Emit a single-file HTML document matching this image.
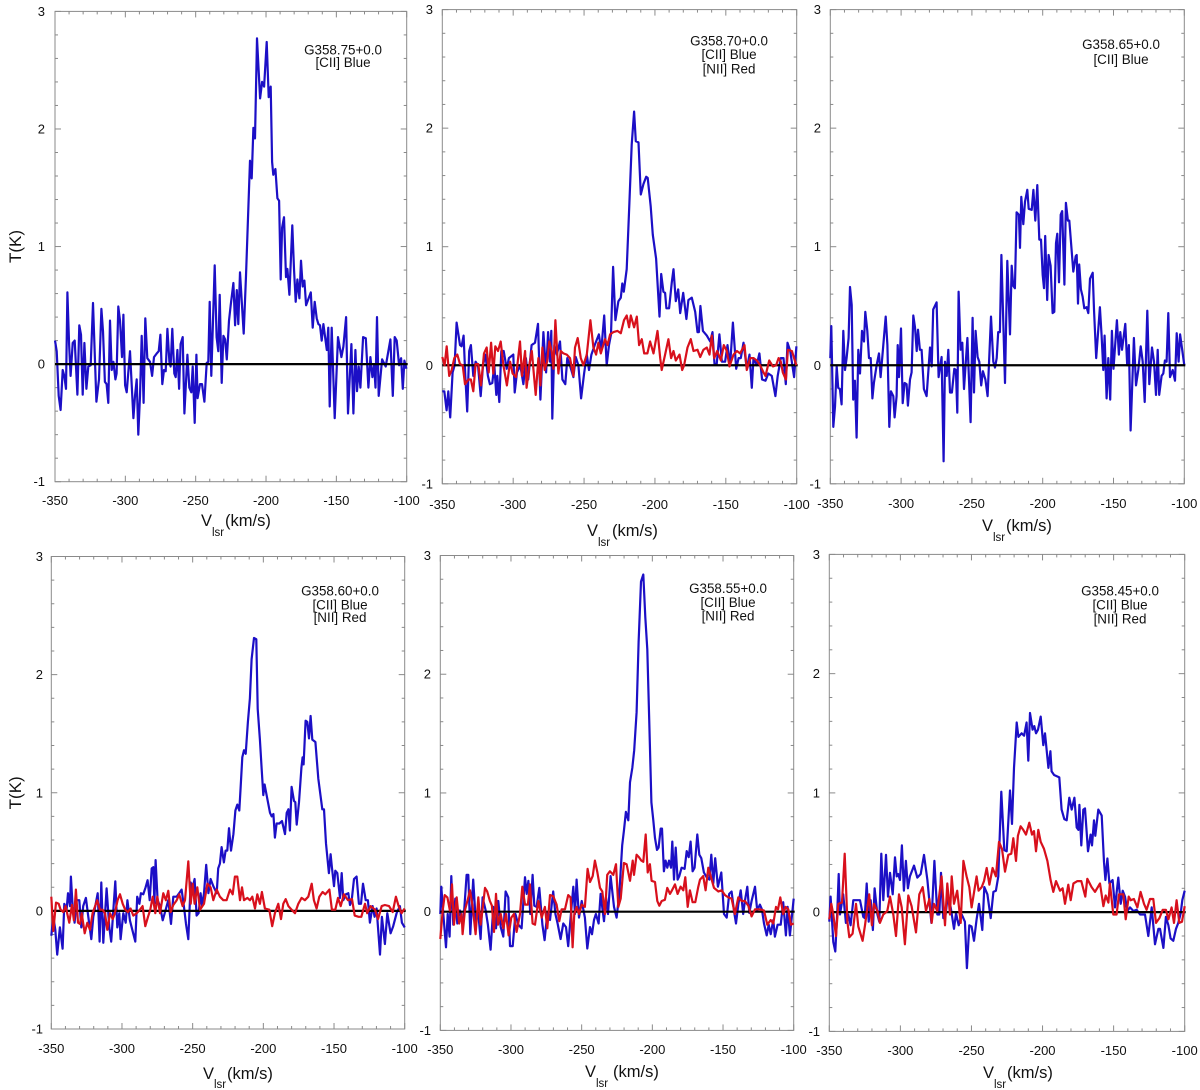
<!DOCTYPE html>
<html lang="en">
<head>
<meta charset="utf-8">
<title>[CII] and [NII] spectra</title>
<style>
html,body{margin:0;padding:0;background:#fff;}
svg{display:block;font-family:"Liberation Sans",sans-serif;}
</style>
</head>
<body>
<svg id="chart" xmlns="http://www.w3.org/2000/svg" width="1200" height="1090" viewBox="0 0 1200 1090"></svg>
<script>
const xTickValues=[-350,-300,-250,-200,-150,-100];
const yTickValues=[-1,0,1,2,3];
const xDomain=[-350,-100];
const yDomain=[-1,3];
const xTitleUnit="(km/s)";
const yTitleText="T(K)";

const p1Cii=[[-350,.2],[-348.8,.11],[-347.4,-.27],[-346,-.39],[-344.5,-.05],[-343.4,-.1],[-342.2,-.21],[-341.2,.61],[-340,.17],[-338.9,-.1],[-337.4,.18],[-336,.2],[-334.1,-.26],[-332.7,.33],[-331.5,.25],[-330.3,-.26],[-329.1,.18],[-327.7,-.21],[-326.3,-.02],[-324.6,-.01],[-323,.52],[-320.6,-.32],[-318.7,-.13],[-317,.47],[-315.9,.28],[-314.5,-.15],[-313.3,-.17],[-312.1,-.33],[-310.9,.37],[-309.7,-.05],[-308.5,.02],[-307.1,-.13],[-306.2,-.08],[-305,.49],[-303.8,.37],[-302.4,.06],[-301.4,.42],[-300.2,-.18],[-299,-.24],[-296.7,.11],[-294.3,-.46],[-293.1,-.27],[-291.9,-.13],[-290.8,-.6],[-289.6,-.27],[-288.4,.24],[-287,-.33],[-285.8,.39],[-284.4,.05],[-282.5,.02],[-281,-.1],[-279.6,.06],[-277.7,.09],[-276.3,.11],[-275.1,.25],[-273.7,-.17],[-272.5,-.05],[-271.3,-.06],[-270.1,.3],[-268.7,.02],[-267.8,-.02],[-266.6,.3],[-265.2,-.08],[-264.2,-.11],[-263,.12],[-261.8,-.21],[-260.7,.17],[-259.2,.23],[-258,-.42],[-255.9,.08],[-254.5,-.2],[-253.1,-.24],[-252.1,-.02],[-250.7,-.5],[-249.5,.08],[-248.6,-.29],[-246.9,-.17],[-245.5,-.17],[-243.8,-.32],[-242.2,.01],[-241,.02],[-240,.53],[-238.9,-.1],[-236.5,.84],[-235.1,.23],[-233.9,.11],[-232.9,.59],[-231.5,-.16],[-230.3,.24],[-229.1,.21],[-227.9,.04],[-226.3,.37],[-225.1,.5],[-223.2,.69],[-222,.33],[-220.8,.63],[-219.7,.34],[-218.5,.78],[-215.9,.26],[-214.2,.75],[-212.5,1.34],[-211.4,1.73],[-210.2,1.58],[-209,2.01],[-207.8,1.92],[-206.4,2.77],[-204.2,2.26],[-202.8,2.4],[-201.4,2.36],[-199.5,2.74],[-198.1,2.27],[-196.7,2.36],[-195.7,1.72],[-194.8,1.61],[-193.3,1.66],[-191.9,1.41],[-190.7,1.39],[-189.6,.72],[-188.6,1.16],[-187.2,1.25],[-185.8,.74],[-184.8,.81],[-183.4,.59],[-181.3,1.18],[-180.1,.81],[-178.9,.53],[-177.7,.72],[-176.3,.56],[-175.1,.88],[-173.9,.66],[-172.7,.71],[-171.5,.5],[-168.2,.61],[-166.8,.31],[-165.4,.53],[-164,.39],[-162.8,.34],[-161.6,.33],[-160.4,.2],[-159.2,.34],[-156.8,.12],[-155.7,.31],[-154.7,-.36],[-153.3,.31],[-151.2,-.46],[-148.8,.23],[-146.4,.06],[-145,.15],[-143.1,.4],[-141.7,-.42],[-139.3,.17],[-137.9,-.42],[-136.5,.12],[-135.3,-.23],[-134.1,-.02],[-132.9,-.2],[-131,.23],[-129.1,.22],[-127.2,-.2],[-125.8,.06],[-124.4,-.11],[-123.2,-.01],[-122.2,-.2],[-121.1,.4],[-119.9,-.27],[-117.5,.04],[-114.9,-.02],[-111.6,.21],[-109.9,-.27],[-108.5,.23],[-107.1,.2],[-105.4,-.01],[-104,.05],[-102.8,-.21],[-101.6,.03],[-100.2,-.04]];

const p2Cii=[[-350,-.22],[-348.6,-.22],[-347,-.38],[-345.8,-.22],[-344.4,-.44],[-342.7,-.06],[-341.3,0],[-339.9,.36],[-337.5,.17],[-336.4,.16],[-335,.25],[-333.8,-.09],[-332.4,-.39],[-331,.12],[-329.8,.17],[-328.1,-.09],[-326.5,.03],[-324.8,0],[-322.9,-.26],[-321.3,0],[-319.6,.09],[-317.8,-.09],[-316.4,-.16],[-314.7,-.15],[-313.3,0],[-311.9,-.25],[-311.2,-.09],[-309.8,-.31],[-308.4,.12],[-306.7,.12],[-304.6,-.03],[-303,.06],[-299.9,.09],[-298.9,-.23],[-297.3,-.06],[-295,0],[-292.8,-.16],[-291,.06],[-289.4,-.12],[-287,.17],[-284.6,.19],[-282.5,.35],[-280.8,-.29],[-278.7,.28],[-276.8,-.06],[-275.4,.28],[-274,.03],[-273.1,.29],[-272.4,-.45],[-270.9,.17],[-269.2,.09],[-267,.2],[-265.3,-.12],[-263.2,-.16],[-261.8,.06],[-260,0],[-257.5,-.1],[-255.9,.07],[-254,0],[-252.1,-.28],[-250,-.07],[-248.1,.09],[-246.5,-.04],[-244.8,.09],[-242.5,.17],[-239.5,.26],[-237.9,.12],[-235.8,.42],[-234,0],[-232.4,.17],[-231,.26],[-229.5,.83],[-227.9,.38],[-225.8,.54],[-224.1,.57],[-223,.69],[-222,.62],[-219.9,.81],[-218,1.37],[-216.4,1.86],[-214.7,2.14],[-213.5,1.89],[-211.6,1.88],[-210,1.44],[-208.1,1.53],[-206.2,1.59],[-205.1,1.58],[-203,1.34],[-201.5,1.1],[-199.2,.9],[-196.8,.41],[-195.6,.77],[-194,.62],[-192.8,.61],[-191.9,.48],[-190,.48],[-188.1,.7],[-186.9,.81],[-185.3,.54],[-183.6,.64],[-182.2,.44],[-180.1,.61],[-177.8,.39],[-176.4,.55],[-174,.57],[-171.6,.45],[-170,.28],[-169,.28],[-167.9,.5],[-166.2,.29],[-163.4,.25],[-161,.2],[-159.4,.28],[-158,.01],[-156.4,.01],[-154.5,.26],[-152.8,.03],[-150.5,.03],[-148.8,.17],[-147,0],[-145,.36],[-142.7,-.03],[-141,.06],[-139.4,.06],[-137.5,.19],[-135.2,-.03],[-133.3,.09],[-131.7,-.19],[-130.5,.06],[-128.2,0],[-126.3,.1],[-124.4,-.12],[-122,-.13],[-120,-.07],[-117.6,-.09],[-115,-.26],[-113.4,-.09],[-111.2,.06],[-109.3,.06],[-107.7,-.16],[-106.5,.19],[-104.6,.12],[-101.8,-.1],[-100.2,.16]];
const p2Nii=[[-350,.07],[-348.4,0],[-346.9,.16],[-345.1,-.09],[-343.4,-.04],[-341.5,.06],[-339.4,.09],[-337.5,.01],[-335.6,0],[-334,-.16],[-331.6,-.12],[-329.8,-.12],[-328.1,-.22],[-326.5,.01],[-324.6,.01],[-322.7,-.17],[-320.6,.1],[-318.7,.15],[-317.3,-.06],[-315.6,.19],[-314,-.07],[-312.6,.16],[-310.7,.12],[-308.8,.2],[-306.9,0],[-304.4,-.17],[-302.2,.03],[-300.4,-.07],[-298,-.1],[-295.2,.2],[-293.8,-.09],[-291.6,.12],[-290.5,-.19],[-288.6,0],[-286.9,.12],[-284.1,-.25],[-282.2,.06],[-280.8,-.17],[-279.4,.15],[-277.8,-.04],[-276.1,.03],[-274.5,.2],[-272.8,.12],[-271.6,-.03],[-270.2,.38],[-268.1,-.07],[-266.5,.12],[-264.6,.1],[-262.2,.09],[-259.9,.06],[-257.5,-.09],[-256.4,.15],[-254.5,.23],[-252.3,.06],[-250.5,0],[-248.1,.09],[-245.5,.38],[-243.4,.15],[-241.5,.09],[-239.9,.19],[-238.2,.1],[-235.2,.22],[-233.5,.17],[-231.6,.26],[-229.3,.28],[-226.5,.29],[-224.1,.27],[-221.8,.38],[-219.9,.42],[-218.2,.32],[-217,.42],[-214.7,.32],[-212.8,.41],[-211.2,.17],[-209.3,.22],[-207.6,.1],[-205.3,.1],[-203.4,.2],[-201,.1],[-198.2,.29],[-196.3,.06],[-195.2,-.04],[-192.8,.09],[-190.5,.22],[-188.6,.06],[-186.9,.12],[-185.3,.04],[-182.7,.09],[-180.8,-.04],[-179.4,0],[-177,.15],[-174.7,.22],[-172.8,.12],[-170,.13],[-168.1,.07],[-165.8,.13],[-163.4,.15],[-161.5,.09],[-159.9,.25],[-158.2,.06],[-156.1,.12],[-153.5,.04],[-151.4,.17],[-149.3,.12],[-147.4,-.01],[-144.6,.09],[-142.2,.12],[-139.9,.1],[-136.8,.17],[-135.2,-.04],[-132.8,.06],[-130.5,.06],[-128.1,.04],[-125.8,0],[-123.4,-.06],[-122,-.09],[-119.4,.04],[-116.8,-.01],[-114.5,0],[-112.8,.06],[-111.2,.03],[-109.8,-.06],[-107.6,-.12],[-106.2,.13],[-103.4,.12],[-100.3,0]];

const p3Cii=[[-350,.06],[-349.3,.33],[-347.9,-.52],[-346.7,-.35],[-345.5,-.01],[-344.4,-.19],[-343.2,-.2],[-342,-.33],[-340.8,.29],[-339.6,-.04],[-338.5,.06],[-337.1,.23],[-336.1,.66],[-334.9,.51],[-333.8,-.29],[-332.6,-.13],[-331.4,-.61],[-330.2,.13],[-329,-.07],[-327.6,.29],[-326.2,.2],[-325.3,.45],[-323.9,.29],[-322.7,.06],[-321.5,.06],[-320.3,-.28],[-319.2,-.15],[-317.3,0],[-315.6,.1],[-314.5,-.1],[-312.6,.17],[-310.9,.41],[-309.7,.17],[-308.3,-.52],[-307.2,-.22],[-305.5,-.26],[-304.6,-.44],[-303.2,-.26],[-302.4,.17],[-301.5,-.1],[-300.1,.31],[-298.9,-.32],[-297.5,-.15],[-296.1,-.16],[-295.2,-.34],[-293.7,-.12],[-292.6,-.06],[-291.4,.42],[-290.2,.32],[-289,.12],[-288.1,.3],[-286.7,.13],[-285.5,.13],[-283.9,-.2],[-282,-.26],[-279.6,.15],[-278.4,-.01],[-277.3,.47],[-274.9,.53],[-273.5,-.1],[-271.4,.07],[-270,-.81],[-269,.03],[-267.8,-.09],[-266.7,.13],[-265.5,-.23],[-264.1,-.23],[-262.4,-.03],[-261.3,-.04],[-260.3,-.4],[-259.4,.62],[-258,.13],[-256.8,.19],[-255.6,-.2],[-253.2,.23],[-250.9,-.48],[-249.5,.4],[-248.5,-.23],[-247.4,.29],[-246,.07],[-244.8,.03],[-243.4,-.17],[-242.2,-.05],[-240.5,-.12],[-238.9,-.26],[-236.5,.41],[-234.9,.03],[-233.7,-.02],[-232.5,.06],[-231.4,.28],[-230.2,.28],[-229.2,.93],[-226.6,-.15],[-225,.88],[-223.1,.26],[-221.9,.84],[-220.8,.67],[-219.6,.65],[-218.4,1.29],[-216.8,1.27],[-216,.99],[-215.1,1.42],[-213.7,1.19],[-212.5,1.38],[-210.9,1.48],[-209.9,1.32],[-207.8,1.31],[-206.6,1.48],[-205.2,1.22],[-203.8,1.52],[-202.4,1.06],[-201.2,1.06],[-200,.76],[-199.1,.65],[-198.2,1.09],[-196.8,.55],[-195.8,.93],[-194.4,.84],[-193,.44],[-191.8,.45],[-190.6,1.03],[-189.7,1.11],[-188.5,.7],[-187.3,1.27],[-186.2,1.3],[-184.7,.68],[-183.6,1.37],[-182.2,1.22],[-181.2,1.22],[-178.4,.79],[-176.7,.92],[-176,.93],[-175.1,.52],[-174.2,.85],[-173,.64],[-171.8,.58],[-170.6,.48],[-169,.49],[-167.8,.44],[-166.6,.73],[-164.7,.78],[-163.8,.47],[-162.2,.06],[-159.6,.49],[-158.4,.25],[-157.2,-.04],[-156.3,.25],[-154.9,-.28],[-153.7,.06],[-152.3,-.29],[-151.1,.29],[-150,-.03],[-147.6,.38],[-146.2,.09],[-145.2,.28],[-144,.13],[-141.7,.35],[-140.3,0],[-139.1,.17],[-137.9,-.55],[-135.6,.23],[-134.1,-.17],[-132.5,-.04],[-130.8,.16],[-129.4,.03],[-128,-.31],[-126.1,.46],[-124.7,-.16],[-122.8,.15],[-121.4,.03],[-120,-.25],[-118.8,.13],[-117.7,-.25],[-116,-.09],[-114.8,-.07],[-113.7,.04],[-112.5,.03],[-111.3,.44],[-110.1,-.1],[-108.2,-.04],[-106.6,-.13],[-105.4,.27],[-104,.03],[-103,.26],[-100,0]];

const p4Cii=[[-350,-.21],[-348.6,-.05],[-347.2,-.16],[-345.8,-.37],[-343.9,-.14],[-342,-.32],[-340.8,.06],[-339.2,.01],[-338.2,.15],[-336.8,.04],[-336.1,.29],[-334.9,.04],[-333.5,-.1],[-332.1,.09],[-330.2,.09],[-328.8,-.14],[-327.4,.04],[-325.5,.11],[-323.8,-.05],[-321.7,-.24],[-320.3,-.05],[-317.2,.15],[-315.8,-.26],[-314.6,.24],[-313.2,-.27],[-310.9,.19],[-309,-.14],[-307.6,-.26],[-304.7,.25],[-303.3,-.14],[-301.9,-.02],[-301,-.24],[-299.1,-.02],[-297.4,-.1],[-296.2,.09],[-294.4,-.08],[-292.7,-.16],[-290.6,-.26],[-289.2,.12],[-287.7,.06],[-286.6,.15],[-284.9,.14],[-283.3,.2],[-281.9,.26],[-280.4,.09],[-279,.36],[-277.8,.37],[-277.1,.06],[-276.2,.43],[-274.8,.09],[-273.1,.04],[-271.2,-.08],[-269.1,.01],[-267.2,.09],[-265.3,-.11],[-263.7,.12],[-261.3,.12],[-259.5,.15],[-257.8,.18],[-256.2,.04],[-254.7,-.11],[-253.1,-.24],[-251.4,.24],[-250.3,.18],[-248.6,.27],[-247.2,-.04],[-245.8,-.02],[-244.4,.15],[-243.4,.04],[-242,.15],[-240.4,.39],[-238.9,.15],[-237.3,.27],[-235.4,.21],[-233,.15],[-231.9,.36],[-230.7,.4],[-229.5,.54],[-227.9,.41],[-226.7,.51],[-225.5,.51],[-224.3,.7],[-222.9,.51],[-221.2,.65],[-219.8,.85],[-218.4,.9],[-217,.85],[-216.1,1.04],[-214.9,1.3],[-213.7,1.36],[-212.5,1.33],[-210.9,1.6],[-209.5,1.8],[-208.3,2.13],[-206.6,2.31],[-205,2.3],[-204,1.71],[-202.4,1.45],[-201.2,1.21],[-200,.98],[-199.1,1.07],[-197.7,.98],[-195.3,.83],[-194.1,.8],[-192.9,.82],[-191.8,.62],[-190.6,.74],[-188.7,.74],[-186.8,.76],[-184.7,.65],[-183.5,.83],[-182.3,.86],[-181.2,.68],[-180,1.05],[-178.3,.93],[-177.4,.92],[-176.4,.73],[-174.8,.92],[-173.1,1.21],[-172.2,1.3],[-171.5,1.24],[-170.1,1.61],[-168.9,1.6],[-167.7,1.46],[-166.6,1.65],[-165.4,1.45],[-163.2,1.43],[-161.1,1.12],[-158.3,.86],[-157.1,.86],[-155.7,.57],[-153.6,.32],[-152.4,.48],[-151.5,.37],[-150,.21],[-149.1,.34],[-147.7,.32],[-145.8,.11],[-144.6,.32],[-143.4,.09],[-141.6,.14],[-139.9,.15],[-138.7,.05],[-137.5,.09],[-135.9,.27],[-134,.29],[-132.4,.06],[-130.9,.06],[-129.5,.23],[-127.6,.09],[-126,.09],[-124.6,-.1],[-122.7,.04],[-121.3,-.05],[-119.9,.02],[-117.5,-.37],[-116.1,-.05],[-114,-.28],[-112.3,-.02],[-110,-.19],[-108.1,-.13],[-105.7,-.02],[-103.4,.04],[-102,-.1],[-100,-.14]];
const p4Nii=[[-350,.12],[-348.6,-.17],[-346.7,.07],[-344.8,.06],[-343.4,.01],[-341.5,-.01],[-339.9,.04],[-337.3,-.1],[-335.4,.05],[-334,-.08],[-332.6,.18],[-331.1,-.1],[-329.7,-.11],[-328.5,-.02],[-326.4,-.19],[-324.5,-.1],[-322.6,-.16],[-320.8,-.02],[-317.5,.09],[-315.6,.01],[-313.7,.01],[-312,-.02],[-310.4,-.16],[-308.5,-.02],[-306.6,-.07],[-305,-.02],[-303.1,.09],[-301.4,.14],[-299.5,.06],[-297.7,.01],[-295.8,-.01],[-293.9,.02],[-292,-.04],[-289.6,-.02],[-287.3,.01],[-285.4,.04],[-283.5,-.13],[-281.6,-.05],[-280,.01],[-278.3,.12],[-276.4,-.02],[-275,.12],[-273.1,-.02],[-270.8,.15],[-268.9,.09],[-267.2,.17],[-265.6,-.01],[-263.7,.05],[-261.3,.09],[-259.5,.14],[-257.1,.04],[-255.4,.09],[-253.1,.42],[-251.4,.06],[-250,.23],[-248.6,.06],[-246.7,.2],[-244.8,.01],[-242,.06],[-239.6,.23],[-237.3,.2],[-235.4,.09],[-233,.18],[-230.7,.12],[-228.3,.09],[-226,.09],[-223.6,.18],[-221.7,.14],[-220.1,.29],[-218.4,.29],[-216.5,.09],[-215.1,.2],[-213.7,.09],[-211.3,.11],[-209.5,.09],[-207.8,.12],[-205.9,.02],[-204.3,.14],[-202.4,.06],[-201,.16],[-198.9,.02],[-195.8,.01],[-193.7,-.13],[-191.8,-.02],[-189.4,.06],[-187.5,-.07],[-185.9,.06],[-184.2,.1],[-182.3,.04],[-180,.01],[-177.6,-.02],[-175.3,.06],[-172.9,.11],[-170.6,.09],[-168.2,.12],[-165.8,.23],[-164.2,.09],[-162.3,.02],[-160.4,.12],[-158.1,.16],[-156.2,.14],[-153.3,.18],[-151.5,.01],[-149.1,.01],[-147.2,.11],[-145.3,.04],[-143,.14],[-140.1,.09],[-137.3,.1],[-135.4,-.04],[-132.6,-.05],[-130.7,-.05],[-128.1,.06],[-126.5,-.02],[-124.1,.04],[-121,.01],[-118.9,-.07],[-116.3,.04],[-114,.05],[-111.1,.04],[-108.5,-.01],[-106.2,.12],[-104.3,.04],[-102.2,-.02],[-100,.02]];

const p5Cii=[[-350,-.02],[-349.3,.21],[-347.9,-.02],[-346,-.3],[-344.8,-.02],[-343.4,-.21],[-342.2,.3],[-340.8,-.11],[-339.4,.11],[-338,-.1],[-336.1,.01],[-333.7,-.1],[-331.4,.31],[-330.2,.31],[-328.8,-.19],[-326.7,.27],[-324.8,-.1],[-323.4,.02],[-321.5,-.23],[-320.1,.12],[-317.9,.01],[-316.3,-.11],[-314.4,-.32],[-312.5,.04],[-310.6,-.14],[-309,.09],[-307.3,-.13],[-305.4,-.21],[-303.8,.17],[-301.9,.12],[-300.7,-.29],[-298.8,-.29],[-296.9,-.02],[-294.8,-.11],[-292.5,-.14],[-290.1,.29],[-288.9,.15],[-287.7,.26],[-286.3,-.02],[-284.7,.31],[-283.5,.05],[-281.9,.04],[-280,.2],[-277.8,-.11],[-276.2,-.24],[-274.3,-.01],[-272.4,-.07],[-270.1,.17],[-268.6,-.02],[-267,-.1],[-264.9,-.23],[-263,-.1],[-261.1,-.13],[-259.5,-.29],[-257.8,-.05],[-255.9,.21],[-254.7,-.02],[-253.6,.27],[-251.9,-.05],[-250,.09],[-247.7,-.05],[-246,-.31],[-244.1,-.13],[-242.7,-.19],[-241.3,-.07],[-239.9,-.02],[-238,-.1],[-236.6,.15],[-234.2,-.08],[-232.8,.12],[-231.4,-.02],[-229.5,.3],[-227.1,.04],[-225.3,-.05],[-223.4,.15],[-221.3,.56],[-220.1,.68],[-218.7,.84],[-217,.77],[-215.8,1.09],[-214.2,1.21],[-212.8,1.36],[-211.1,1.68],[-209.7,2.27],[-208,2.78],[-206.4,2.84],[-205,2.48],[-203.6,2.21],[-202.2,1.62],[-200.7,.92],[-199.3,.77],[-198.1,.62],[-196.7,.52],[-195.6,.54],[-194.1,.7],[-193.2,.7],[-191.8,.34],[-190.6,.43],[-189.4,.37],[-188.2,.43],[-186.8,.37],[-185.9,.59],[-184.7,.27],[-183.5,.54],[-182.1,.27],[-180.9,.3],[-179.3,.37],[-177.2,.36],[-175.7,.51],[-174.3,.46],[-172.9,.59],[-171.5,.34],[-170.1,.37],[-168.2,.65],[-166.8,.48],[-165.4,.45],[-163.5,.33],[-161.6,.29],[-159.7,.27],[-158.3,.48],[-156.9,.24],[-155.5,.45],[-153.6,.21],[-151.2,.33],[-149.3,-.02],[-147.4,-.05],[-145.6,.15],[-143.9,.17],[-142,-.01],[-140.8,-.1],[-139.2,.06],[-137.5,.18],[-135.7,-.02],[-134.5,.09],[-132.8,.21],[-131.4,-.01],[-129.8,.09],[-127.4,.21],[-125.8,.01],[-123.9,.06],[-122.5,.02],[-121,-.1],[-119.1,-.2],[-117.7,-.11],[-116.3,-.19],[-114.4,-.07],[-113.3,-.21],[-111.4,-.11],[-109.2,-.11],[-107.4,.08],[-105.5,-.2],[-104.3,.04],[-102.7,-.2],[-100,.11]];
const p5Nii=[[-350,-.23],[-348.3,.01],[-346.9,.14],[-345,.12],[-343.2,.01],[-341.7,.23],[-340.3,-.11],[-338.4,.12],[-336.6,-.1],[-334.9,-.02],[-334.2,-.19],[-332.6,.01],[-330.2,.12],[-329,.18],[-327.1,.04],[-325,-.19],[-323.1,.12],[-321.5,-.11],[-320.1,.02],[-318.4,.2],[-316.8,.17],[-314.9,.09],[-313.5,.05],[-312,-.17],[-310.6,.15],[-309.2,-.11],[-307.3,-.02],[-305.4,-.14],[-303.5,-.02],[-301.7,-.2],[-299.8,-.05],[-297.9,-.02],[-296,-.17],[-293.6,-.02],[-292,.21],[-290.1,.06],[-288,.06],[-286.6,.23],[-284.7,-.1],[-283,-.11],[-280.7,.09],[-278.3,-.05],[-276,.04],[-274.3,-.14],[-272.4,.14],[-270.1,.13],[-267.7,.06],[-265.8,-.08],[-264.2,.02],[-261.8,.02],[-259.5,.14],[-257.8,.12],[-256.4,-.3],[-255.2,-.02],[-253.6,.04],[-251.9,-.02],[-250,.06],[-247.7,.04],[-245.8,.36],[-244.1,.25],[-242.2,.3],[-240.6,.43],[-238.9,.33],[-237,.2],[-235.4,.17],[-233.5,-.02],[-231.9,.31],[-230,.34],[-227.6,.31],[-225.7,.4],[-224.1,.04],[-222.4,.11],[-220.1,.41],[-218.2,.4],[-215.8,.26],[-213.9,.43],[-213,.31],[-211.1,.48],[-209.5,.46],[-207.8,.43],[-206.4,.42],[-204.7,.65],[-203.3,.33],[-201.7,.4],[-200.5,.26],[-198.1,.25],[-196.5,.09],[-195.1,.05],[-193.4,.09],[-191.1,.1],[-189.4,.2],[-187.5,.15],[-186.1,.18],[-184,.23],[-182.1,.15],[-180,.21],[-178.1,.18],[-176.7,.29],[-175,.04],[-173.4,.18],[-171.5,.08],[-169.6,.08],[-167.5,.21],[-166.3,.27],[-164,.3],[-162.3,.18],[-160.4,.37],[-158.5,.29],[-156.4,.2],[-153.3,.17],[-151,.18],[-148.6,.14],[-146.3,.12],[-143.9,.11],[-141.6,-.02],[-139.2,.12],[-136.8,.09],[-134.5,.09],[-132.1,.05],[-129.8,-.04],[-127.4,.02],[-123.9,.02],[-121,.01],[-118.7,-.11],[-116.3,-.07],[-114.4,-.1],[-112.5,.04],[-111.1,.02],[-109.5,.12],[-107.4,-.02],[-105.7,.04],[-103.8,.02],[-102,-.11],[-100,-.1]];

const p6Cii=[[-350,-.08],[-349.1,.13],[-347.2,-.25],[-345.8,-.33],[-344.4,.01],[-343.4,.32],[-342.5,-.02],[-340.2,.15],[-338.3,-.09],[-336.6,-.02],[-335,-.11],[-333.1,.1],[-330.3,.1],[-328.4,.1],[-326.1,-.04],[-325.1,-.05],[-323.7,.24],[-322.3,-.08],[-320.9,.1],[-319.3,-.15],[-318.1,.2],[-316.2,-.02],[-314.8,-.08],[-313.4,.49],[-312,.1],[-310.1,.48],[-308.7,.13],[-307.3,.33],[-305.4,.15],[-303.8,.46],[-302.6,.3],[-301.5,.32],[-300.3,.27],[-298.9,.56],[-297.5,.18],[-296.1,.43],[-294.7,.2],[-293.3,.3],[-290.4,.39],[-288.1,.29],[-285.7,.32],[-283.4,.48],[-281,.27],[-278.2,-.09],[-276.1,.43],[-274,-.02],[-272.6,-.02],[-271.4,.33],[-269.8,-.05],[-268.2,-.02],[-266.5,.15],[-264.6,.04],[-262.3,-.14],[-260.9,-.01],[-259,-.11],[-256.9,-.02],[-254.6,-.08],[-253.2,-.47],[-251.5,-.11],[-249.9,-.12],[-248.2,-.24],[-246.4,-.06],[-244.7,.07],[-242.4,-.15],[-241,.21],[-238.8,.15],[-236.5,-.05],[-234.6,.17],[-232.8,.18],[-231.1,.3],[-229,1.01],[-226.9,.52],[-225.2,.51],[-222.9,1.02],[-221.5,.74],[-220.1,1.21],[-218.2,1.59],[-217,1.47],[-214.7,1.5],[-213,1.48],[-211.2,1.59],[-210,1.27],[-208.8,1.67],[-207,1.53],[-205.8,1.56],[-204.6,1.5],[-203.2,1.53],[-201.3,1.64],[-199.5,1.4],[-198.3,1.5],[-195.9,1.21],[-194.5,1.35],[-193.6,1.18],[-191.9,1.15],[-188.2,1.13],[-186.6,.86],[-184.7,.78],[-183,.77],[-181.2,.96],[-179.5,.86],[-177.6,.96],[-176,.71],[-174.8,.69],[-174.1,.9],[-172.7,.56],[-171.3,.86],[-170.1,.87],[-168,.51],[-166.2,.65],[-165.2,.56],[-163.8,.77],[-162.9,.64],[-160.8,.86],[-158.4,.81],[-156.8,.42],[-155.8,.27],[-154.4,.45],[-153,.24],[-150.7,.27],[-149,.04],[-146.7,.29],[-145,.07],[-143.6,.18],[-142,.13],[-140.4,.01],[-138.5,.04],[-136.1,.01],[-133.8,.02],[-131.4,-.02],[-127.9,-.02],[-125.6,-.2],[-123.2,.04],[-120.9,-.27],[-118.5,-.14],[-117.4,-.14],[-115,-.3],[-113.2,-.04],[-111.5,-.11],[-109.9,-.22],[-108,-.24],[-106.1,-.14],[-104.5,-.09],[-102.8,-.01],[-101.7,.1],[-100,.18]];
const p6Nii=[[-350,-.06],[-348.6,.07],[-347.2,-.02],[-345.3,-.2],[-343.7,.07],[-341.1,.08],[-339.2,.49],[-337.3,-.08],[-335.9,-.21],[-333.6,-.18],[-331.2,.07],[-329.6,-.12],[-326.6,-.24],[-324.9,-.11],[-321.9,.15],[-320,-.11],[-318.6,.07],[-316.2,.01],[-314.4,-.09],[-312,-.02],[-309.2,.01],[-307.3,.13],[-305,-.02],[-303.1,-.2],[-301,.15],[-299.1,.04],[-296.8,-.27],[-294.4,.14],[-292.1,.05],[-289,-.17],[-286.7,.15],[-284.3,.21],[-282,.01],[-279.6,.11],[-278,-.09],[-276.4,.07],[-274,.01],[-271,.3],[-268.6,-.11],[-267,.24],[-265.1,-.02],[-263.9,.3],[-262.3,.07],[-260,.18],[-257.6,-.09],[-255.7,.43],[-253.4,.3],[-251.5,.21],[-249.9,.04],[-246.4,.3],[-245,.18],[-242.8,.21],[-241.2,.26],[-239.3,.37],[-237.4,.23],[-235.1,.37],[-232.8,.3],[-230.6,.59],[-228.5,.53],[-226.4,.34],[-224.1,.48],[-222,.49],[-220.6,.62],[-218.7,.43],[-217.3,.64],[-215.4,.72],[-213.5,.69],[-211.6,.65],[-209.3,.75],[-207.4,.65],[-206,.68],[-204.6,.51],[-203,.69],[-201.3,.59],[-199,.53],[-196.6,.43],[-194.3,.27],[-192.4,.17],[-190.5,.26],[-187.7,.18],[-185.9,.2],[-184.2,.07],[-181.9,.23],[-180.2,.1],[-178.3,.24],[-175.5,.26],[-172.7,.26],[-169.9,.13],[-168.5,.28],[-165.5,.21],[-163.1,.17],[-159.6,.24],[-157.2,.05],[-155.6,.14],[-153.7,.08],[-152.6,.24],[-150.2,-.02],[-147.9,-.02],[-146.2,.15],[-143.2,.15],[-141.5,-.06],[-139.4,.13],[-138,.1],[-135.7,.11],[-133.3,.04],[-131,.17],[-128.6,.07],[-126.8,.02],[-124.4,.11],[-122.1,.11],[-120.2,-.09],[-117.8,-.05],[-115.5,.02],[-113.2,.02],[-111.5,-.06],[-109.2,.04],[-107.5,-.09],[-105.7,.1],[-103.8,-.09],[-101.9,-.08],[-100,.05]];

const panelList=[
 {id:'g358-75',lines:['G358.75+0.0','[CII] Blue'],cii:p1Cii,nii:null,showY:true,box:[55,406.7,11.4,481.7],ann:[343,54.5,67],tickY:505,yEnd:45,vX:201,unitX:225,vY:526,subY:536},
 {id:'g358-70',lines:['G358.70+0.0','[CII] Blue','[NII] Red'],cii:p2Cii,nii:p2Nii,showY:false,box:[442.3,796.7,9.6,483.8],ann:[729,45.5,59,73.5],tickY:509,yEnd:433,vX:587,unitX:612,vY:536,subY:546},
 {id:'g358-65',lines:['G358.65+0.0','[CII] Blue'],cii:p3Cii,nii:null,showY:false,box:[830.3,1184.3,9.6,483.8],ann:[1121,49,64],tickY:508,yEnd:821,vX:982,unitX:1006,vY:531,subY:541},
 {id:'g358-60',lines:['G358.60+0.0','[CII] Blue','[NII] Red'],cii:p4Cii,nii:p4Nii,showY:true,box:[51.3,404.7,556.5,1029],ann:[340,595.5,609.5,622],tickY:1053,yEnd:43,vX:203,unitX:227,vY:1079,subY:1088},
 {id:'g358-55',lines:['G358.55+0.0','[CII] Blue','[NII] Red'],cii:p5Cii,nii:p5Nii,showY:false,box:[440.3,793.7,555.5,1030.4],ann:[728,593,607,620.6],tickY:1054,yEnd:431,vX:585,unitX:613,vY:1077,subY:1087},
 {id:'g358-45',lines:['G358.45+0.0','[CII] Blue','[NII] Red'],cii:p6Cii,nii:p6Nii,showY:false,box:[829.3,1184.7,554.4,1031.4],ann:[1120,595.5,609.5,623.4],tickY:1055,yEnd:820,vX:983,unitX:1007,vY:1078,subY:1088}
];

const root=document.getElementById('chart');
const NS='http://www.w3.org/2000/svg';
function node(tag,parent){const el=document.createElementNS(NS,tag);parent.appendChild(el);return el;}
function tickLine(parent,x1,y1,x2,y2,name){
  const el=node('line',parent);
  
  
  el.setAttribute('x1',x1);el.setAttribute('y1',y1);el.setAttribute('x2',x2);el.setAttribute('y2',y2);
  el.setAttribute('stroke','#8a8a8a');el.setAttribute('stroke-width','1');
}
function label(parent,txt,x,y,size,anchor,name){
  const el=node('text',parent);
  
  
  el.setAttribute('x',x);el.setAttribute('y',y);el.setAttribute('font-size',size);
  el.setAttribute('text-anchor',anchor);el.setAttribute('fill','#111');
  el.textContent=txt;
  return el;
}
function spectrum(parent,data,sx,sy,color,name){
  const el=node('polyline',parent);
  
  
  el.setAttribute('points',data.map(function(d){return sx(d[0]).toFixed(1)+','+sy(d[1]).toFixed(1);}).join(' '));
  el.setAttribute('fill','none');el.setAttribute('stroke',color);
  el.setAttribute('stroke-width','2.2');el.setAttribute('stroke-linejoin','round');
}
panelList.forEach(function(p){
  const L=p.box[0],R=p.box[1],T=p.box[2],B=p.box[3];
  const sx=function(v){return L+(v-xDomain[0])/(xDomain[1]-xDomain[0])*(R-L);};
  const sy=function(t){return B-(t-yDomain[0])/(yDomain[1]-yDomain[0])*(B-T);};
  const g=node('g',root);
  
  
  const frame=node('rect',g);
  
  
  frame.setAttribute('x',L);frame.setAttribute('y',T);frame.setAttribute('width',R-L);frame.setAttribute('height',B-T);
  frame.setAttribute('fill','none');frame.setAttribute('stroke','#8a8a8a');frame.setAttribute('stroke-width','1');
  for(let v=xDomain[0];v<=xDomain[1];v+=10){
    const major=xTickValues.indexOf(v)>=0,len=major?6:3;
    tickLine(g,sx(v),B,sx(v),B-len,'x-tick-bottom');
    tickLine(g,sx(v),T,sx(v),T+len,'x-tick-top');
  }
  for(let i=0;i<=20;i++){
    const t=yDomain[0]+i*0.2,major=i%5===0,len=major?6:3;
    tickLine(g,L,sy(t),L+len,sy(t),'y-tick-left');
    tickLine(g,R,sy(t),R-len,sy(t),'y-tick-right');
  }
  xTickValues.forEach(function(v){
    label(g,String(v),sx(v),p.tickY,13,'middle','x-tick-label');
  });
  yTickValues.forEach(function(t){
    label(g,String(t),p.yEnd,sy(t)+4.5,13,'end','y-tick-label');
  });
  spectrum(g,p.cii,sx,sy,'#1c0fc6','cii-spectrum');
  const zero=node('line',g);
  
  
  zero.setAttribute('x1',L);zero.setAttribute('x2',R+1);zero.setAttribute('y1',sy(0));zero.setAttribute('y2',sy(0));
  zero.setAttribute('stroke','#000');zero.setAttribute('stroke-width','2.2');
  if(p.nii){spectrum(g,p.nii,sx,sy,'#d8101c','nii-spectrum');}
  p.lines.forEach(function(txt,i){
    label(g,txt,p.ann[0],p.ann[i+1],13.4,'middle','annotation-line');
  });
  label(g,'V',p.vX,p.vY,16.5,'start','x-axis-title-v');
  label(g,'lsr',p.vX+11,p.subY,11.5,'start','x-axis-title-subscript');
  label(g,xTitleUnit,p.unitX,p.vY,16.5,'start','x-axis-title-unit');
  if(p.showY){
    const yc=(sy(1)).toFixed(1);
    const yt=label(g,yTitleText,21,yc,17,'middle','y-axis-title');
    yt.setAttribute('transform','rotate(-90 21 '+yc+')');
  }
});
</script>
</body>
</html>
